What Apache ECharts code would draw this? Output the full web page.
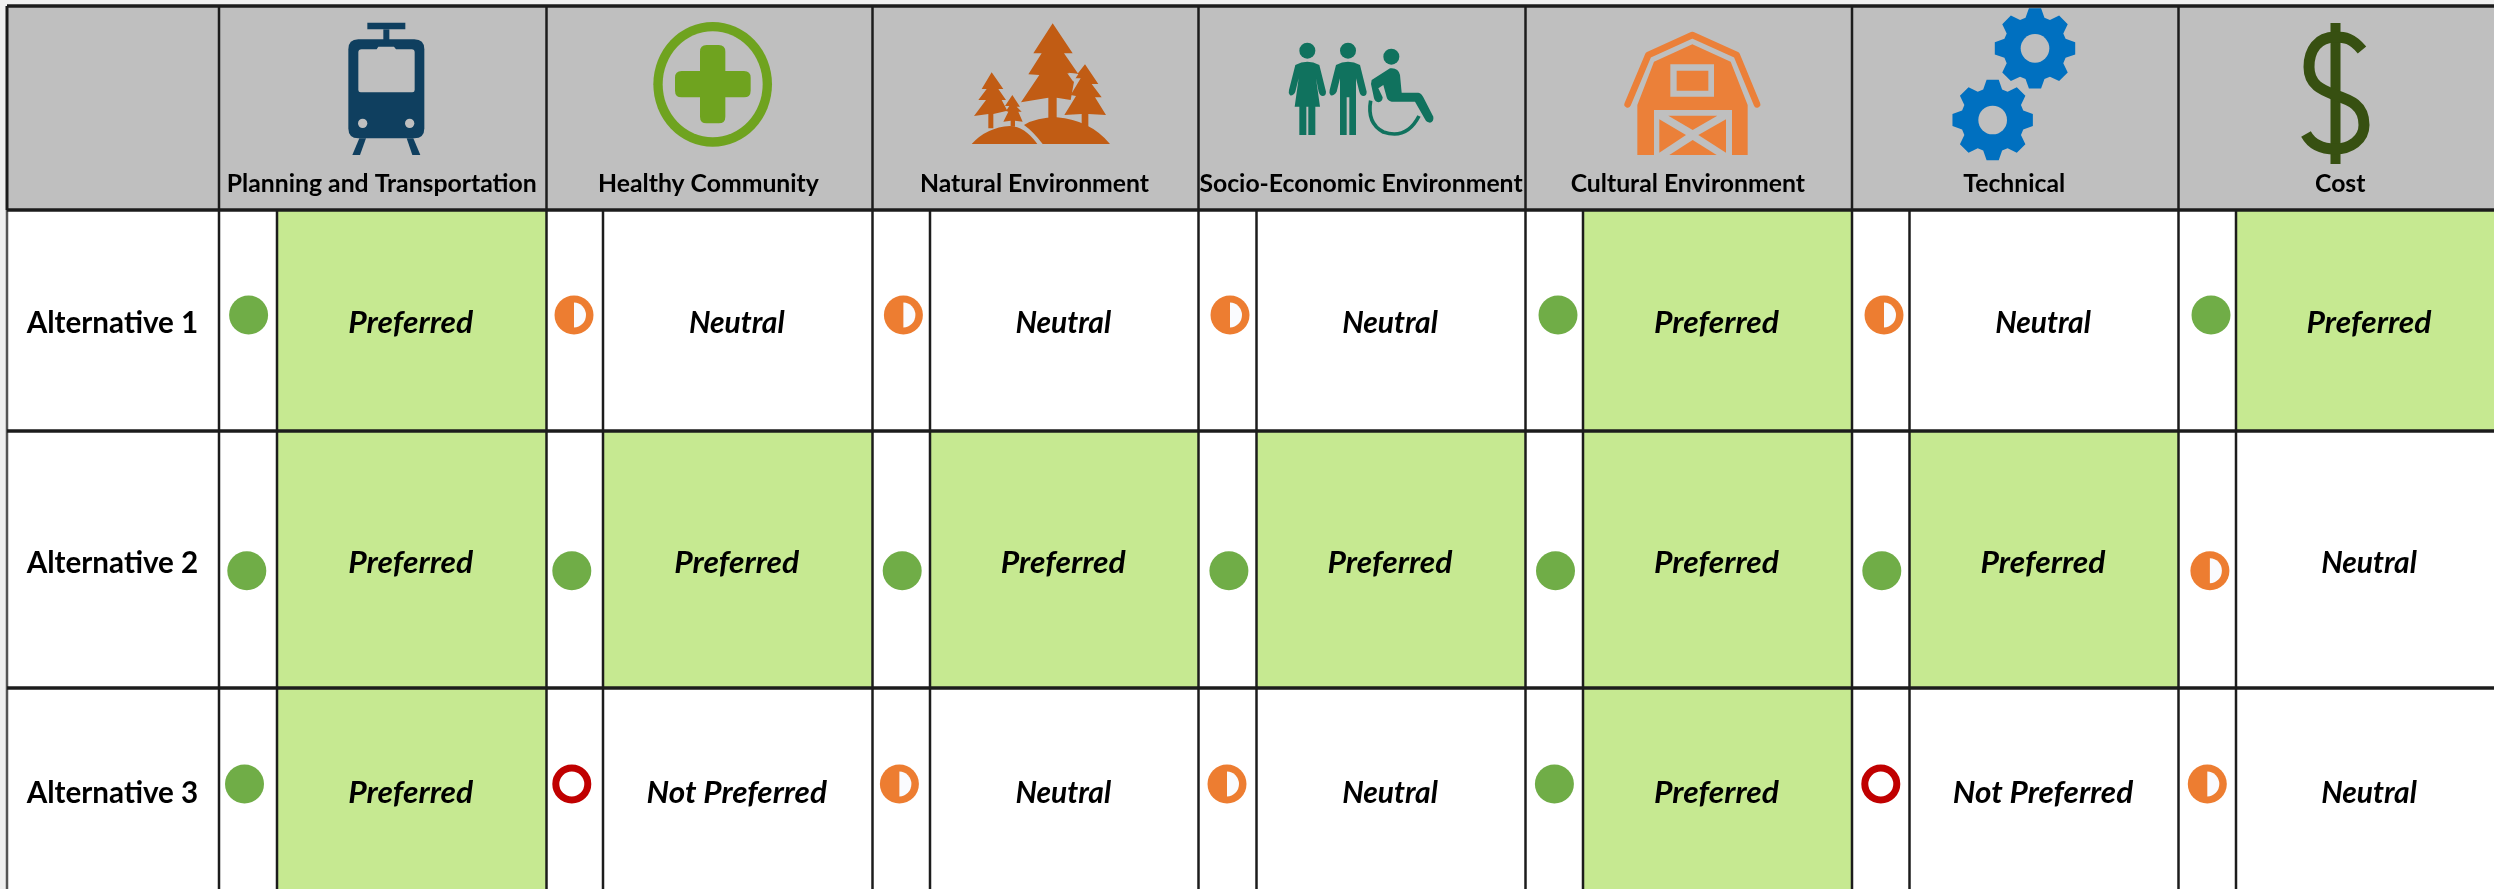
<!DOCTYPE html>
<html><head><meta charset="utf-8">
<style>html,body{margin:0;padding:0;background:#fff}#c{width:2494px;height:889px}</style>
<script src="https://cdn.jsdelivr.net/npm/echarts@6/dist/echarts.min.js"></script>
</head><body><div id="c"></div>
<script>
// ---------- data ----------
const criteria = ['Planning and Transportation','Healthy Community','Natural Environment','Socio-Economic Environment','Cultural Environment','Technical','Cost'];
const alternatives = ['Alternative 1','Alternative 2','Alternative 3'];
const alternative1 = ['Preferred','Neutral','Neutral','Neutral','Preferred','Neutral','Preferred'];
const alternative2 = ['Preferred','Preferred','Preferred','Preferred','Preferred','Preferred','Neutral'];
const alternative3 = ['Preferred','Not Preferred','Neutral','Neutral','Preferred','Not Preferred','Neutral'];
const ratings = [alternative1, alternative2, alternative3];

// ---------- layout (table geometry in axis units) ----------
const W = 2494, H = 889;
const colEdges = [219, 546.5, 872.5, 1198.5, 1525.5, 1852, 2178.5, 2504];
const innerEdges = [277, 603, 930, 1256.5, 1583, 1909.5, 2236];
const rowEdges = [210, 431, 688, 889];
const tableLeft = 7, tableTop = 6;
const markerX = [
  [248.6, 574, 903.4, 1230, 1558, 1884, 2211],
  [246.8, 571.8, 902.2, 1228.9, 1555.5, 1881.8, 2209.9],
  [244.5, 571.8, 899.4, 1227, 1554.4, 1880.8, 2207.3]
];
const markerY = [315, 570.7, 784];
const textY = [323.5, 563.5, 793.5];
const headerTextY = 184;

// ---------- styles ----------
const HEADER = '#BFBFBF', PREF = '#C6E991', LINE = '#1c1c1c';
const FONT = 'Lato';
const TXT_SCALE_H = 0.99, TXT_SCALE_L = 0.987;
const TXT_SCALE_WORD = { 'Preferred': 1.06, 'Not Preferred': 1.05, 'Neutral': 1.0 };

const circ = (cx, cy, rx, ry) => `M${cx - rx},${cy} A${rx},${ry} 0 1 1 ${cx + rx},${cy} A${rx},${ry} 0 1 1 ${cx - rx},${cy} Z`;
const rectP = (x0, y0, x1, y1) => `M${x0},${y0} L${x1},${y0} L${x1},${y1} L${x0},${y1} Z`;
function gear(cx, cy) {
  const rO = 122, rR = 96, pts = [];
  for (let k = 0; k < 8; k++) {
    const a = -Math.PI / 2 + k * Math.PI / 4;
    [[rR, -0.30], [rO, -0.15], [rO, 0.15], [rR, 0.30]].forEach(p => {
      pts.push((cx + p[0] * Math.cos(a + p[1])).toFixed(1) + ',' + (cy + p[0] * Math.sin(a + p[1])).toFixed(1));
    });
  }
  return 'M' + pts.join(' L') + ' Z';
}
const G = HEADER;
const icons = [
  { o: [320, 10], s: 1 / 3, parts: [
    { d: rectP(142, 38, 256, 58), f: '#0F3F5F' }, { d: rectP(190, 58, 208, 92), f: '#0F3F5F' },
    { d: 'M115,88 L283,88 Q313,88 313,118 L313,355 Q313,385 283,385 L115,385 Q85,385 85,355 L85,118 Q85,88 115,88 Z', f: '#0F3F5F' },
    { d: 'M125,118 L170,118 L175,110 L222,110 L228,118 L275,118 Q284,118 284,127 L284,240 Q284,247 277,247 L122,247 Q115,247 115,240 L115,127 Q115,118 125,118 Z', f: G },
    { d: circ(128, 340, 14, 14), f: G }, { d: circ(269, 340, 14, 14), f: G },
    { d: 'M118,385 L138,385 L120,435 L97,435 Z', f: '#0F3F5F' }, { d: 'M260,385 L280,385 L301,435 L277,435 Z', f: '#0F3F5F' } ] },
  { o: [320, 10], s: 1 / 3, parts: [
    { d: circ(1178, 223, 178, 187), f: '#6FA31F' }, { d: circ(1178, 223, 150, 159), f: G },
    { d: 'M1160,105 L1196,105 Q1216,105 1216,125 L1216,183 L1272,183 Q1292,183 1292,203 L1292,242 Q1292,262 1272,262 L1216,262 L1216,320 Q1216,340 1196,340 L1160,340 Q1140,340 1140,320 L1140,262 L1085,262 Q1065,262 1065,242 L1065,203 Q1065,183 1085,183 L1140,183 L1140,125 Q1140,105 1160,105 Z', f: '#6FA31F' } ] },
  { o: [950, 10], s: 1 / 3, parts: [
    { d: 'M308,40 L368,130 L342,130 L385,192 L356,188 L372,215 L362,270 L320,263 L320,325 L295,325 L295,263 L213,277 L268,195 L235,193 L275,130 L250,130 Z', f: '#C15C14' },
    { d: 'M405,163 L445,222 L425,222 L455,262 L435,262 L468,315 L415,312 L415,350 L395,350 L395,312 L343,315 L378,258 L362,255 L392,205 L372,205 Z', f: '#C15C14' },
    { d: 'M352,190 L385,192 L370,215 Z', f: G },
    { d: 'M125,187 L160,237 L145,237 L168,270 L155,270 L172,302 L130,312 L130,355 L115,355 L115,312 L72,318 L108,270 L85,270 L110,237 L95,237 Z', f: '#C15C14' },
    { d: 'M187,255 L210,290 L200,290 L215,305 L205,305 L218,335 L195,332 L195,350 L182,350 L182,332 L160,335 L175,305 L168,303 L178,288 L165,288 Z', f: '#C15C14' },
    { d: 'M65,402 Q110,352 180,348 Q225,350 262,402 Z', f: '#C15C14' },
    { d: 'M278,402 Q250,365 222,345 Q260,322 320,322 Q420,330 480,402 Z', f: '#C15C14' } ] },
  { o: [950, 10], s: 1 / 3, parts: [
    { d: circ(1072, 122, 24, 24), f: '#10725E' },
    { d: 'M1036,165 Q1072,145 1108,165 L1128,245 Q1128,258 1118,258 Q1110,258 1106,245 L1098,205 L1110,290 L1096,290 L1096,375 L1075,375 L1075,290 L1069,290 L1069,375 L1048,375 L1048,290 L1034,290 L1046,205 L1036,245 Q1030,258 1020,256 Q1014,250 1017,240 Z', f: '#10725E' },
    { d: circ(1194, 122, 24, 24), f: '#10725E' },
    { d: 'M1158,165 Q1194,145 1230,165 L1250,245 Q1250,258 1240,258 Q1232,258 1228,245 L1218,205 L1218,375 L1198,375 L1198,262 L1190,262 L1190,375 L1170,375 L1170,205 L1160,245 Q1152,258 1142,256 Q1136,250 1139,240 Z', f: '#10725E' },
    { d: circ(1324, 140, 24, 24), f: '#10725E' },
    { d: 'M1265,210 L1320,175 Q1345,172 1350,195 L1355,248 L1405,248 Q1415,250 1420,262 L1450,320 Q1452,335 1440,338 Q1430,338 1425,328 L1395,275 L1325,275 Q1312,272 1310,262 L1300,225 L1285,235 L1298,262 Q1298,275 1285,277 Q1275,275 1272,265 L1263,222 Z', f: '#10725E' },
    { d: 'M1262,272 Q1250,340 1300,366 Q1370,390 1407,318', st: '#10725E', w: 11 } ] },
  { o: [1610, 0], s: 1 / 3, parts: [
    { d: 'M53,313 L115,165 L247,105 L380,165 L441,313', st: '#EB8039', w: 20, round: true },
    { d: 'M82,465 L82,315 L132,185 L247,133 L362,185 L413,315 L413,465 L366,465 L366,330 L132,330 L132,465 Z', f: '#EB8039' },
    { d: rectP(181, 193, 312, 290), f: G }, { d: rectP(200, 212, 295, 272), f: '#EB8039' },
    { d: 'M175,347 L322,347 L248,390 Z', f: '#EB8039' }, { d: 'M148,358 L228,405 L148,458 Z', f: '#EB8039' },
    { d: 'M348,358 L348,458 L265,405 Z', f: '#EB8039' }, { d: 'M248,420 L178,465 L320,465 Z', f: '#EB8039' } ] },
  { o: [1610, 0], s: 1 / 3, parts: [
    { d: gear(1275, 145), f: '#0070C0' }, { d: circ(1275, 145, 43, 43), f: G },
    { d: gear(1148, 360), f: '#0070C0' }, { d: circ(1148, 360, 43, 43), f: G } ] },
  { o: [0, 0], s: 1, parts: [
    { d: rectP(2330.5, 23, 2340.5, 164), f: '#375011' },
    { d: 'M2362,50 C2352,38 2345,37 2335,37 C2318,37 2309,50 2309,67 C2309,85 2322,90 2335,95 C2350,100 2364,105 2364,125 C2364,140 2350,149 2335,149 C2322,149 2312,145 2306,134', st: '#375011', w: 11 } ] }
];

const pt = (api, x, y) => api.coord([x, y]);
const box = (api, x0, y0, x1, y1, fill) => {
  const a = pt(api, x0, y0), b = pt(api, x1, y1);
  return { type: 'rect', shape: { x: a[0], y: a[1], width: b[0] - a[0], height: b[1] - a[1] }, style: { fill } };
};
const label = (api, x, y, text, font, sx) => {
  const p = pt(api, x, y);
  return { type: 'text', x: p[0], y: p[1], scaleX: sx, style: { text, x: 0, y: 0, font, align: 'center', verticalAlign: 'middle', fill: '#000' } };
};

// cell table items: [column, row]
const cellItems = [];
ratings.forEach((r, ri) => r.forEach((v, ci) => cellItems.push([ci, ri])));

const option = {
  animation: false,
  backgroundColor: '#fff',
  grid: { left: 0, right: 0, top: 0, bottom: 0 },
  xAxis: { type: 'value', min: 0, max: W, show: false },
  yAxis: { type: 'value', min: 0, max: H, inverse: true, show: false },
  series: [
    { // page margin and header band
      type: 'custom', coordinateSystem: 'cartesian2d', silent: true, data: [[0, 0]], clip: false, encode: { x: 0, y: 1 },
      renderItem: (p, api) => ({ type: 'group', children: [
        box(api, 0, 0, W, tableTop, '#F0F0F0'), box(api, 0, 0, tableLeft, H, '#F0F0F0'),
        box(api, tableLeft, tableTop, W, rowEdges[0], HEADER)
      ] })
    },
    { // preferred cell fill
      type: 'custom', coordinateSystem: 'cartesian2d', silent: true, data: cellItems, encode: { x: 0, y: 1 },
      renderItem: (p, api) => {
        const c = api.value(0), r = api.value(1);
        if (ratings[r][c] !== 'Preferred') return { type: 'group', children: [] };
        return box(api, innerEdges[c], rowEdges[r], colEdges[c + 1], rowEdges[r + 1], PREF);
      }
    },
    { // rating discs
      type: 'custom', coordinateSystem: 'cartesian2d', silent: true, data: cellItems, encode: { x: 0, y: 1 },
      renderItem: (p, api) => {
        const c = api.value(0), r = api.value(1), v = ratings[r][c];
        const q = pt(api, markerX[r][c], markerY[r]);
        const kids = [];
        if (v === 'Preferred') {
          kids.push({ type: 'circle', shape: { cx: q[0], cy: q[1], r: 19.5 }, style: { fill: '#70AD47' } });
        } else if (v === 'Neutral') {
          kids.push({ type: 'circle', shape: { cx: q[0], cy: q[1], r: 19.5 }, style: { fill: '#ED7D31' } });
          kids.push({ type: 'path', shape: { pathData: `M${q[0]},${q[1] - 12.5} A12,12.5 0 0 1 ${q[0]},${q[1] + 12.5} Z` }, style: { fill: '#FAFBFE' } });
        } else {
          kids.push({ type: 'circle', shape: { cx: q[0], cy: q[1], r: 16 }, style: { fill: '#fff', stroke: '#C00000', lineWidth: 7 } });
        }
        return { type: 'group', children: kids };
      }
    },
    { // rating words
      type: 'custom', coordinateSystem: 'cartesian2d', silent: true, data: cellItems, encode: { x: 0, y: 1 },
      renderItem: (p, api) => {
        const c = api.value(0), r = api.value(1), w = ratings[r][c];
        return label(api, (innerEdges[c] + colEdges[c + 1]) / 2 - 1, textY[r], w, `italic bold 30px ${FONT}`, TXT_SCALE_WORD[w]);
      }
    },
    { // alternative names
      type: 'custom', coordinateSystem: 'cartesian2d', silent: true, data: alternatives.map((a, i) => [0, i]), encode: { x: 0, y: 1 },
      renderItem: (p, api) => label(api, 112.5, textY[api.value(1)], alternatives[api.value(1)], `bold 30px ${FONT}`, TXT_SCALE_L)
    },
    { // criterion icons
      type: 'custom', coordinateSystem: 'cartesian2d', silent: true, data: criteria.map((c, i) => [i, 0]), encode: { x: 0, y: 1 },
      renderItem: (p, api) => {
        const ic = icons[api.value(0)], q = pt(api, ic.o[0], ic.o[1]);
        return { type: 'group', x: q[0], y: q[1], scaleX: ic.s, scaleY: ic.s, children: ic.parts.map(part => ({
          type: 'path', shape: { pathData: part.d },
          style: part.st ? { fill: null, stroke: part.st, lineWidth: part.w, lineCap: part.round ? 'round' : 'butt', lineJoin: part.round ? 'round' : 'miter' } : { fill: part.f }
        })) };
      }
    },
    { // criterion names
      type: 'custom', coordinateSystem: 'cartesian2d', silent: true, data: criteria.map((c, i) => [i, 0]), encode: { x: 0, y: 1 },
      renderItem: (p, api) => {
        const c = api.value(0);
        return label(api, (colEdges[c] + colEdges[c + 1]) / 2 - 1, headerTextY, criteria[c], `bold 25px ${FONT}`, TXT_SCALE_H);
      }
    },
    { // rules
      type: 'custom', coordinateSystem: 'cartesian2d', silent: true, data: [[0, 0]], encode: { x: 0, y: 1 },
      renderItem: (p, api) => {
        const kids = [];
        const ln = (x0, y0, x1, y1, w, col) => {
          const a = pt(api, x0, y0), b = pt(api, x1, y1);
          kids.push({ type: 'line', shape: { x1: a[0], y1: a[1], x2: b[0], y2: b[1] }, style: { stroke: col || LINE, lineWidth: w } });
        };
        ln(tableLeft, tableTop, tableLeft, rowEdges[0], 3);
        ln(tableLeft, rowEdges[0], tableLeft, H, 2.5, '#555');
        colEdges.slice(0, 7).forEach(x => ln(x, tableTop, x, H, 2.5));
        innerEdges.forEach(x => ln(x, rowEdges[0], x, H, 2.5));
        ln(tableLeft, tableTop, W, tableTop, 3.5);
        rowEdges.slice(0, 3).forEach(y => ln(tableLeft, y, W, y, 3.5));
        return { type: 'group', children: kids };
      }
    }
  ]
};
echarts.init(document.getElementById('c'), null, { renderer: 'canvas' }).setOption(option);
</script></body></html>
